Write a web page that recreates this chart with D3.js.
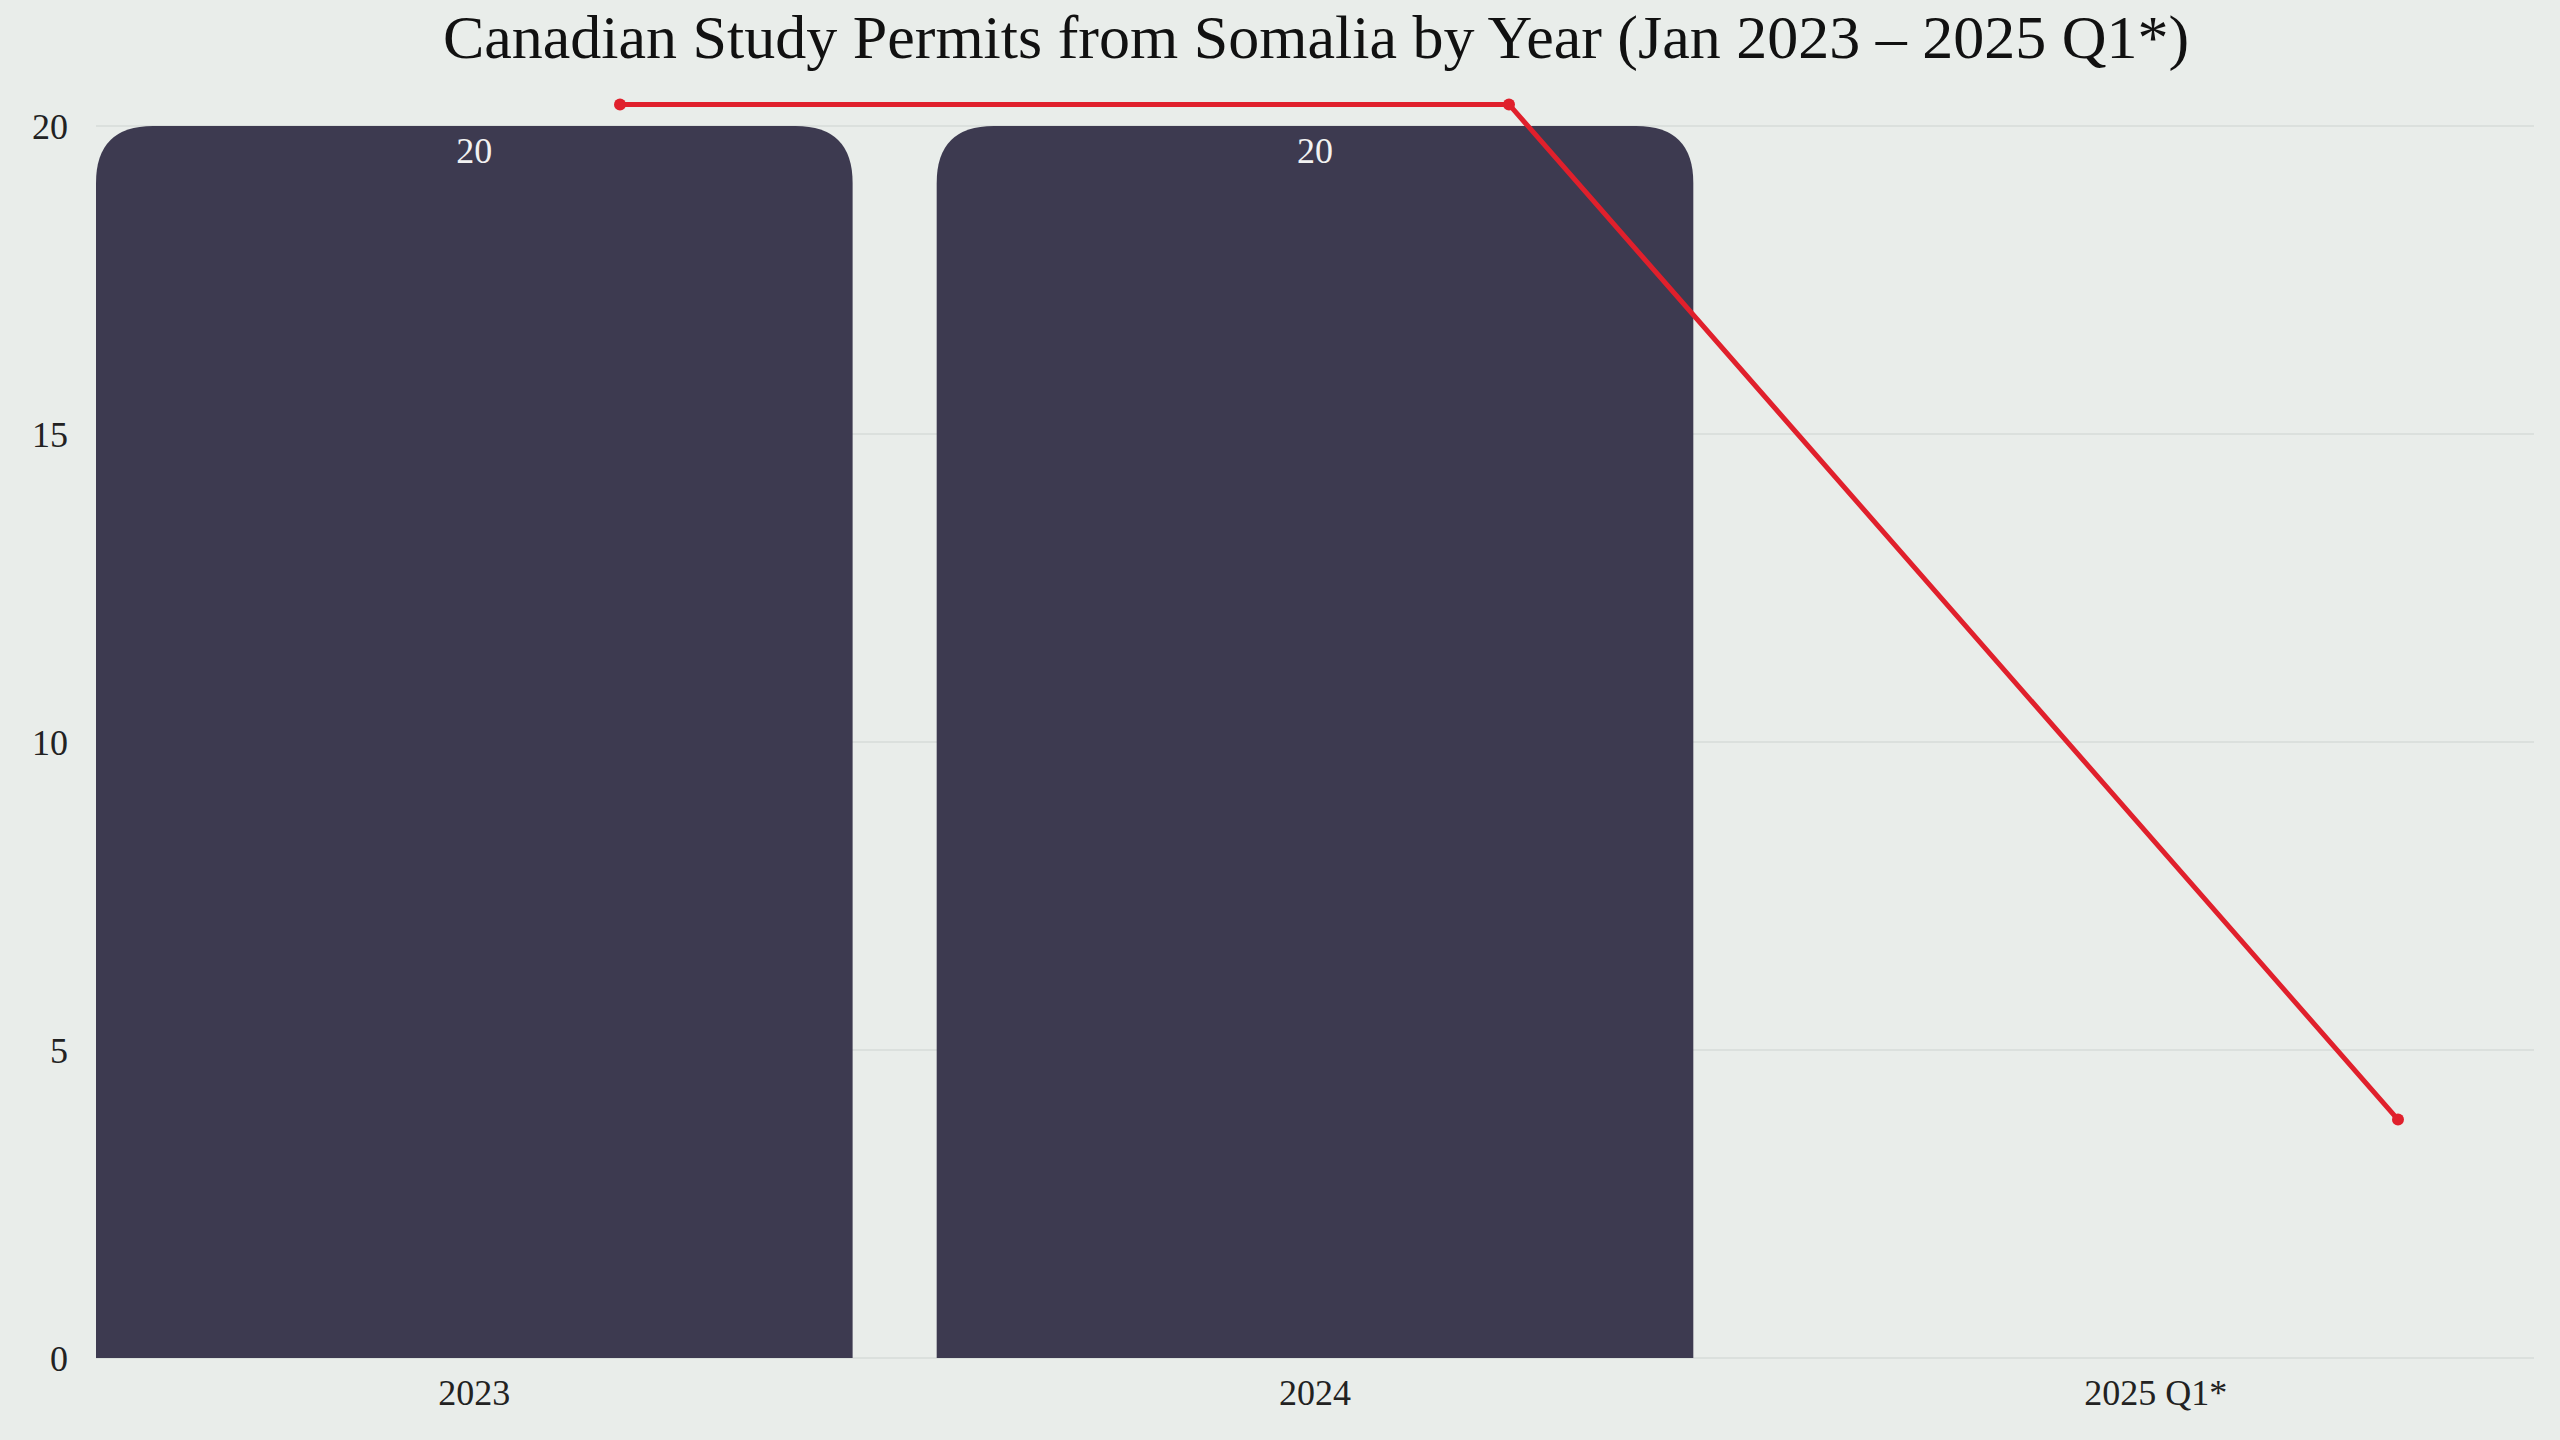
<!DOCTYPE html>
<html><head><meta charset="utf-8">
<script src="https://cdn.jsdelivr.net/npm/d3@7"></script>
<style>body{margin:0;background:#e9edea}text{font-family:"Liberation Serif","DejaVu Serif",serif}</style>
</head><body><svg id="c" width="2560" height="1440"></svg>
<script>
var years = ["2023", "2024", "2025 Q1*"];
var permits = [20, 20, null];
var trend = [20.35, 20.35, 3.87];
var yTicks = [0, 5, 10, 15, 20];

var svg = d3.select("#c"),
    plotLeft = 96, plotRight = 2534, plotTop = 126, plotBottom = 1358;

svg.append("rect").attr("width", 2560).attr("height", 1440).attr("fill", "#e9edea");

var x = d3.scaleBand().domain(years).range([plotLeft, plotRight]).paddingInner(0.1).paddingOuter(0);
var xl = d3.scalePoint().domain(years).range([620, 2398]);
var y = d3.scaleLinear().domain([0, 20]).range([plotBottom, plotTop]);

svg.append("g").selectAll("line").data(yTicks).join("line")
    .attr("x1", plotLeft).attr("x2", plotRight)
    .attr("y1", function (d) { return y(d); }).attr("y2", function (d) { return y(d); })
    .attr("stroke", "#d6dbd9").attr("stroke-width", 1.5);

svg.append("g").selectAll("text").data(yTicks).join("text")
    .attr("x", 68).attr("y", function (d) { return y(d); }).attr("dy", "0.35em")
    .attr("text-anchor", "end").attr("font-size", 36).attr("fill", "#222")
    .text(function (d) { return d; });

var r = 57;
var shown = years.filter(function (d, i) { return permits[i] != null; });
svg.append("g").selectAll("path").data(shown).join("path")
    .attr("fill", "#3d3a50")
    .attr("d", function (d, i) {
        var x0 = x(d), w = x.bandwidth(), y0 = y(permits[i]), yb = y(0);
        return "M" + x0 + "," + yb + "V" + (y0 + r) + "Q" + x0 + "," + y0 + " " + (x0 + r) + "," + y0 +
            "H" + (x0 + w - r) + "Q" + (x0 + w) + "," + y0 + " " + (x0 + w) + "," + (y0 + r) + "V" + yb + "Z";
    });

svg.append("g").selectAll("text").data(shown).join("text")
    .attr("x", function (d) { return x(d) + x.bandwidth() / 2; })
    .attr("y", function (d, i) { return y(permits[i]) + 37; })
    .attr("text-anchor", "middle").attr("font-size", 36).attr("fill", "#f2f2f2")
    .text(function (d, i) { return permits[i]; });

svg.append("g").selectAll("text").data(years).join("text")
    .attr("x", function (d) { return x(d) + x.bandwidth() / 2; }).attr("y", 1405)
    .attr("text-anchor", "middle").attr("font-size", 36).attr("fill", "#222")
    .text(function (d) { return d; });

var line = d3.line().x(function (d, i) { return xl(years[i]); }).y(function (d) { return y(d); });
svg.append("path").datum(trend).attr("d", line).attr("fill", "none")
    .attr("stroke", "#e0202c").attr("stroke-width", 5);
svg.append("g").selectAll("circle").data(trend).join("circle")
    .attr("cx", function (d, i) { return xl(years[i]); }).attr("cy", function (d) { return y(d); })
    .attr("r", 6).attr("fill", "#e0202c");

svg.append("text").attr("x", 1316).attr("y", 58).attr("text-anchor", "middle")
    .attr("font-size", 62).attr("fill", "#111")
    .text("Canadian Study Permits from Somalia by Year (Jan 2023 \u2013 2025 Q1*)");
</script></body></html>
